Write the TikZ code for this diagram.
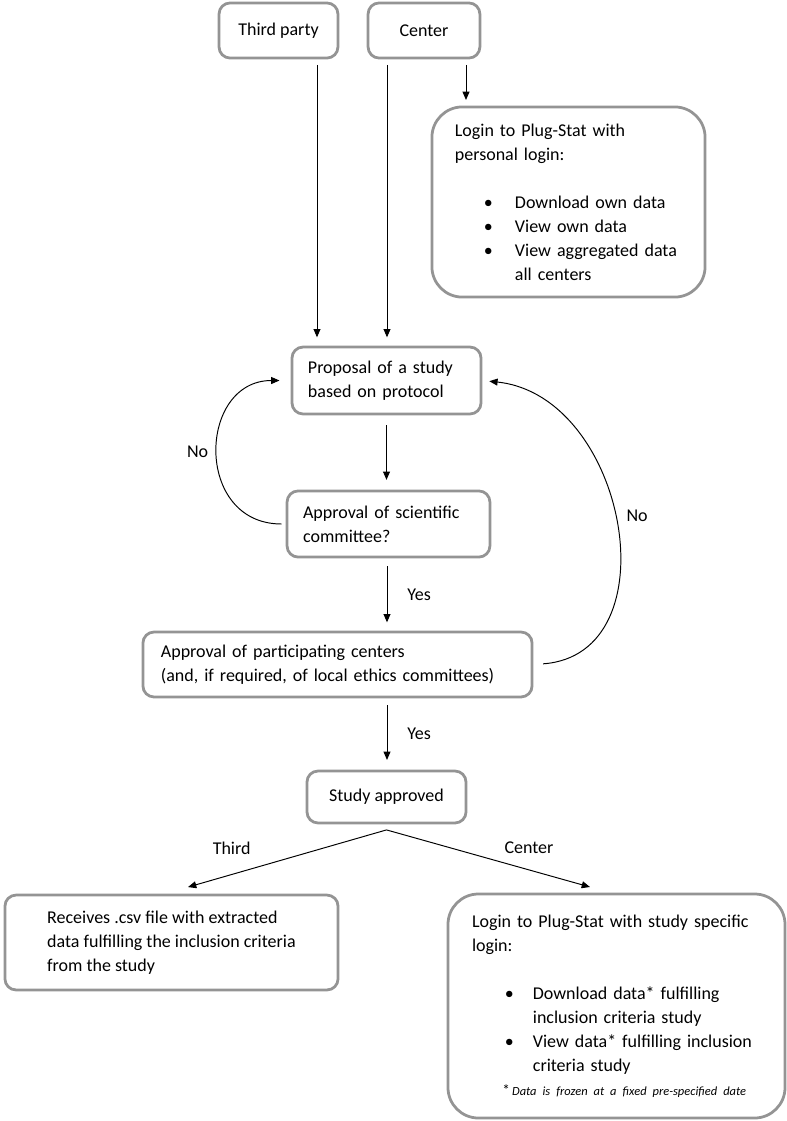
\documentclass[tikz,border=0pt]{standalone}
\usepackage{fontspec}
\setmainfont{Carlito}
\usetikzlibrary{arrows.meta}

\begin{document}
\begin{tikzpicture}[x=0.254mm,y=-0.254mm,
    box/.style={draw=black!42, line width=2pt, rounded corners=8pt, align=left,
                font=\fontsize{13}{17.3}\selectfont},
    bigbox/.style={box, rounded corners=22pt},
    arr/.style={-{Triangle[length=6pt,width=5pt]}, line width=0.7pt},
    lbl/.style={font=\fontsize{13}{15}\selectfont}]

    \useasboundingbox (0,0) rectangle (787,1121);

    % who asks
    \node[box, align=center, minimum width=30.2mm, minimum height=14mm] (third) at (278.5,30.5) {Third party};
    \node[box, align=center, minimum width=28.4mm, minimum height=14mm] (center) at (424,30.5) {Center};
    \node[bigbox, text width=57.7mm, inner xsep=5.84mm, minimum height=48.3mm] (login) at (568.5,202)
        {Login to Plug-Stat with\\
         personal login:\\[17.3pt]
         \hspace*{21pt}\makebox[22.4pt][l]{\textbullet}Download own data\\
         \hspace*{21pt}\makebox[22.4pt][l]{\textbullet}View own data\\
         \hspace*{21pt}\makebox[22.4pt][l]{\textbullet}View aggregated data\\
         \hspace*{43.4pt}all centers};

    % approval chain
    \node[box, text width=39.9mm, inner xsep=4.06mm, minimum height=17mm] (prop) at (386.5,380.5)
        {Proposal of a study\\ based on protocol};
    \node[box, text width=43.4mm, inner xsep=4.06mm, minimum height=16.8mm] (sci) at (388.5,524)
        {Approval of scientific\\ committee?};
    \node[box, text width=89.7mm, inner xsep=4.57mm, minimum height=16.5mm] (part) at (337.5,664.5)
        {Approval of participating centers\\ (and, if required, of local ethics committees)};
    \node[box, align=center, minimum width=40.4mm, minimum height=13.2mm] (study) at (386.5,797) {Study approved};

    % outcome
    \node[box, minimum width=84.6mm, minimum height=24.1mm] (recv) at (171.5,942.5)
        {Receives .csv file with extracted\\ data fulfilling the inclusion criteria\\ from the study};
    \node[bigbox, text width=73.4mm, inner xsep=6.1mm, minimum height=56.9mm] (login2) at (616.5,1006)
        {Login to Plug-Stat with study specific\\
         login:\\[17.3pt]
         \hspace*{23.8pt}\makebox[20.2pt][l]{\textbullet}Download data* fulfilling\\
         \hspace*{44pt}inclusion criteria study\\
         \hspace*{23.8pt}\makebox[20.2pt][l]{\textbullet}View data* fulfilling inclusion\\
         \hspace*{44pt}criteria study\\
         \hspace*{22pt}{\fontsize{9}{10}\selectfont{\fontsize{11}{10}\selectfont*}\,\textit{Data is frozen at a fixed pre-specified date}}};

    \coordinate (tpx) at (317,0);
    \coordinate (cx) at (387,0);
    \coordinate (lx) at (466,0);
    \coordinate (split) at ([yshift=-4pt]study.south);

    % arrows
    \draw[arr, shorten <=4pt, shorten >=6pt] (third.south -| tpx) -- (prop.north -| tpx);
    \draw[arr, shorten <=4pt, shorten >=6pt] (center.south -| cx) -- (prop.north -| cx);
    \draw[arr, shorten <=4pt, shorten >=4pt] (center.south -| lx) -- (login.north -| lx);
    \draw[arr, shorten <=7pt, shorten >=7pt] (prop.south) -- (prop.south |- sci.north);
    \draw[arr, shorten <=5.5pt, shorten >=6pt] (sci.south -| cx) -- (part.north -| cx)
        node[lbl, midway, right=11pt] (yes1) {Yes};
    \draw[arr, shorten <=5pt, shorten >=7pt] (part.south -| cx) -- (study.north -| cx)
        node[lbl, midway, right=11pt] (yes2) {Yes};
    \draw[arr, shorten <=3pt, shorten >=8pt] (sci.west) .. controls +(-92,0) and +(-93,0) .. (prop.west)
        node[lbl, midway, left=4pt] (no1) {No};
    \draw[arr, shorten <=7pt, shorten >=5pt] (part.east) .. controls +(140,-10) and +(145,15) .. (prop.east)
        node[lbl, pos=0.52, right=6pt] (no2) {No};
    \draw[arr] (split) -- ([shift={(16.5,-6.6)}]recv.north)
        node[lbl, pos=0.78, above=11pt] (thirdlbl) {Third};
    \draw[arr] (split) -- ([shift={(-26.5,-5.6)}]login2.north)
        node[lbl, pos=0.7, above=8pt] (centerlbl) {Center};
\end{tikzpicture}
\end{document}
